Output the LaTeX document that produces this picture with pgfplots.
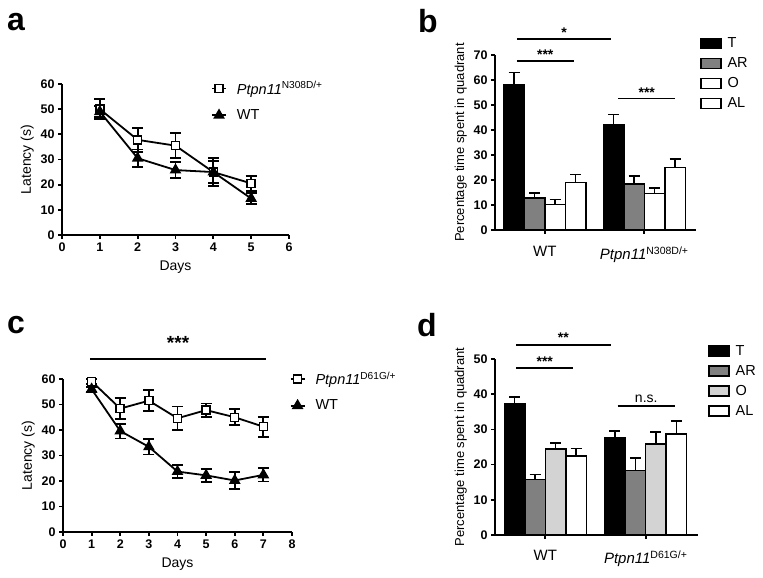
\documentclass[border=0pt]{standalone}
\usepackage{pgfplots}
\pgfplotsset{compat=1.18}
\usepackage{fontspec}
\setmainfont{Liberation Sans}
\definecolor{argray}{HTML}{808080}
\definecolor{ogray}{HTML}{D3D3D3}
\tikzset{sig/.style={font=\fontsize{14}{14}\selectfont\bfseries, anchor=south, inner sep=0pt, yshift=-1pt}}
\begin{document}
\begin{tikzpicture}
\path[use as bounding box] (0pt,0pt) rectangle (763pt,578pt);
\pgfplotsset{
  every axis/.append style={
    scale only axis, clip=false,
    axis x line*=bottom, axis y line*=left,
    axis line style={line width=2pt,-},
    every tick/.style={black, line width=1.8pt},
    tick align=outside, major tick length=4pt,
    tick label style={font=\fontsize{12.5}{14}\selectfont\bfseries},
    /pgf/number format/assume math mode=true,
    label style={font=\fontsize{14}{16}\selectfont},
    legend style={draw=none, fill=none, font=\fontsize{14.5}{16}\selectfont, inner sep=0pt, outer sep=0pt},
    legend cell align=left,
  },
  lineplot/.style={black, line width=1.8pt, mark size=4pt,
    error bars/y dir=both, error bars/y explicit,
    error bars/error bar style={line width=1.8pt, solid},
    error bars/error mark options={rotate=90, mark size=5.5pt, line width=1.8pt}},
  lineleg/.style={legend image code/.code={\draw[mark repeat=2,mark phase=2,##1] plot coordinates {(0pt,0pt) (7pt,0pt) (14pt,0pt)};},
    legend style={/tikz/every odd column/.append style={column sep=8pt}}},
  barleg/.style={legend image code/.code={\draw[##1, line width=1.5pt] (0pt,-5pt) rectangle (20pt,5pt);},
    legend style={/tikz/every odd column/.append style={column sep=4pt}}},
  barplot/.style={draw=black, line width=1.5pt,
    error bars/y dir=plus, error bars/y explicit,
    error bars/error bar style={line width=1.8pt, black},
    error bars/error mark options={rotate=90, mark size=5.5pt, line width=1.8pt, black}},
}
% ---------- panel a ----------
\node[font=\fontsize{32}{32}\selectfont\bfseries] at (16pt,556pt) {a};
\begin{axis}[at={(62pt,343pt)}, anchor=south west, width=227pt, height=151pt,
  xmin=0, xmax=6, ymin=0, ymax=60, xtick={0,...,6}, ytick={0,10,...,60},
  xlabel={Days}, ylabel={Latency (s)}, lineleg,
  xlabel style={yshift=-3pt},
  legend style={at={(0.657,1.03)}, anchor=north west, row sep=10pt}]
\addplot[lineplot, mark=square*, mark options={fill=white, solid, line width=1.5pt}]
  coordinates {(1,50) +- (0,4) (2,37.8) +- (0,4.7) (3,35.5) +- (0,5) (4,25) +- (0,5.6) (5,20.5) +- (0,3)};
\addlegendentry{\textit{Ptpn11}\textsuperscript{N308D/+}}
\addplot[lineplot, mark=triangle*, mark options={fill=black, solid, mark size=5pt}]
  coordinates {(1,49) +- (0,2.2) (2,30.5) +- (0,3.5) (3,25.8) +- (0,3.2) (4,25) +- (0,4.3) (5,14.5) +- (0,2.2)};
\addlegendentry{WT}
\end{axis}
% ---------- panel b ----------
\node[font=\fontsize{32}{32}\selectfont\bfseries] at (428pt,557pt) {b};
\begin{axis}[at={(495pt,348pt)}, anchor=south west, width=201pt, height=175pt,
  xmin=-0.5, xmax=1.52, ymin=0, ymax=70, ytick={0,10,...,70},
  xtick={0,1}, xticklabels={WT, \textit{Ptpn11}\textsuperscript{N308D/+}},
  x tick label style={font=\fontsize{15}{17}\selectfont, yshift=-9pt},
  ylabel={Percentage time spent in quadrant},
  ylabel style={font=\fontsize{13}{15}\selectfont},
  ybar=0pt, bar width=20.5pt, barleg,
  legend style={at={(1.02,1.11)}, anchor=north west, row sep=4.5pt}]
\addplot[barplot, fill=black] coordinates {(0,58.1) +- (0,4.9) (1,42) +- (0,4.2)};
\addlegendentry{T}
\addplot[barplot, fill=argray] coordinates {(0,12.8) +- (0,2) (1,18.4) +- (0,3.3)};
\addlegendentry{AR}
\addplot[barplot, fill=white] coordinates {(0,10.2) +- (0,2) (1,14.5) +- (0,2.3)};
\addlegendentry{O}
\addplot[barplot, fill=white] coordinates {(0,18.9) +- (0,3.3) (1,25) +- (0,3.3)};
\addlegendentry{AL}
\draw[line width=1.5pt] (axis cs:-0.28,76.4) -- (axis cs:0.67,76.4);
\node[sig] at (axis cs:0.195,77.5) {*};
\draw[line width=1.5pt] (axis cs:-0.28,67.5) -- (axis cs:0.29,67.5);
\node[sig] at (axis cs:0.005,68.5) {***};
\draw[line width=1.5pt] (axis cs:0.74,52.5) -- (axis cs:1.31,52.5);
\node[sig] at (axis cs:1.025,53.5) {***};
\end{axis}
% ---------- panel c ----------
\node[font=\fontsize{32}{32}\selectfont\bfseries] at (16pt,253pt) {c};
\begin{axis}[at={(63pt,46pt)}, anchor=south west, width=229pt, height=153pt,
  xmin=0, xmax=8, ymin=0, ymax=60, xtick={0,...,8}, ytick={0,10,...,60},
  xlabel={Days}, ylabel={Latency (s)}, lineleg,
  xlabel style={yshift=-3pt},
  legend style={at={(0.99,1.06)}, anchor=north west, row sep=10pt}]
\addplot[lineplot, mark=square*, mark options={fill=white, solid, line width=1.5pt}]
  coordinates {(1,59.1) +- (0,1) (2,48.4) +- (0,4) (3,51.5) +- (0,4.2) (4,44.6) +- (0,4.6) (5,47.8) +- (0,2.6) (6,45) +- (0,3.1) (7,41.3) +- (0,3.9)};
\addlegendentry{\textit{Ptpn11}\textsuperscript{D61G/+}}
\addplot[lineplot, mark=triangle*, mark options={fill=black, solid, mark size=5pt}]
  coordinates {(1,56) +- (0,1) (2,39.6) +- (0,2.9) (3,33.4) +- (0,3) (4,23.7) +- (0,2.6) (5,22.2) +- (0,2.6) (6,20.2) +- (0,3.2) (7,22.4) +- (0,2.6)};
\addlegendentry{WT}
\draw[line width=1.5pt] (axis cs:0.94,67.8) -- (axis cs:7.1,67.8);
\node[font=\fontsize{19}{19}\selectfont\bfseries, anchor=south] at (axis cs:4.02,70) {***};
\end{axis}
% ---------- panel d ----------
\node[font=\fontsize{32}{32}\selectfont\bfseries] at (427pt,253pt) {d};
\begin{axis}[at={(495pt,43pt)}, anchor=south west, width=203pt, height=176pt,
  xmin=-0.5, xmax=1.52, ymin=0, ymax=50, ytick={0,10,...,50},
  xtick={0,1}, xticklabels={WT, \textit{Ptpn11}\textsuperscript{D61G/+}},
  x tick label style={font=\fontsize{15}{17}\selectfont, yshift=-8pt},
  ylabel={Percentage time spent in quadrant},
  ylabel style={font=\fontsize{13}{15}\selectfont},
  ybar=0pt, bar width=20.5pt, barleg,
  legend style={at={(1.05,1.09)}, anchor=north west, row sep=4.5pt}]
\addplot[barplot, fill=black] coordinates {(0,37.4) +- (0,1.9) (1,27.5) +- (0,2)};
\addlegendentry{T}
\addplot[barplot, fill=argray] coordinates {(0,15.8) +- (0,1.4) (1,18.3) +- (0,3.5)};
\addlegendentry{AR}
\addplot[barplot, fill=ogray] coordinates {(0,24.4) +- (0,1.8) (1,25.8) +- (0,3.4)};
\addlegendentry{O}
\addplot[barplot, fill=white] coordinates {(0,22.5) +- (0,2.1) (1,28.7) +- (0,3.7)};
\addlegendentry{AL}
\draw[line width=1.5pt] (axis cs:-0.29,54) -- (axis cs:0.65,54);
\node[sig] at (axis cs:0.18,54.8) {**};
\draw[line width=1.5pt] (axis cs:-0.29,47.4) -- (axis cs:0.28,47.4);
\node[sig] at (axis cs:-0.005,48.2) {***};
\draw[line width=1.5pt] (axis cs:0.72,36.6) -- (axis cs:1.29,36.6);
\node[font=\fontsize{14}{14}\selectfont, anchor=south] at (axis cs:1.005,36.6) {n.s.};
\end{axis}
\end{tikzpicture}
\end{document}
